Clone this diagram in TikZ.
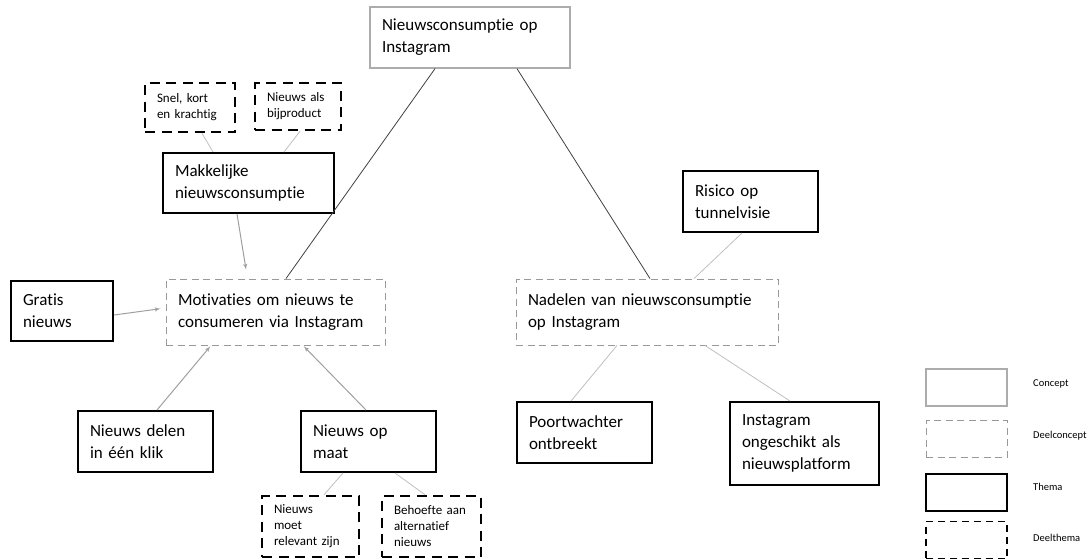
\documentclass[tikz,border=0pt]{standalone}
\usepackage{fontspec}
\setmainfont{Carlito}[Ligatures=NoCommon]
\usetikzlibrary{arrows, positioning}
\tikzset{>=latex', auto,
    concept/.style={rectangle,draw=gray!65,line width=1.3pt,align=left,inner xsep=12pt,font=\fontsize{17}{22}\selectfont},
    deelconcept/.style={rectangle,draw=gray!80,line width=0.9pt,dash pattern=on 7pt off 4.5pt,align=left,inner xsep=12pt,font=\fontsize{17}{22}\selectfont},
    thema/.style={rectangle,draw=black,line width=2pt,align=left,inner xsep=12pt,font=\fontsize{17}{22}\selectfont},
    deelthema/.style={rectangle,draw=black,line width=2.6pt,dash pattern=on 10pt off 6.5pt,align=left,inner xsep=12pt,font=\fontsize{13}{16}\selectfont},
    legendbox/.style={minimum width=81pt,minimum height=37pt,inner sep=0pt},
    legendtext/.style={anchor=west,inner sep=0pt,font=\fontsize{10.5}{12}\selectfont},
    hoofdlijn/.style={draw=black!75,line width=0.8pt},
    deellijn/.style={draw=gray!50,line width=0.8pt},
    pijl/.style={->,draw=gray!75,line width=1pt}}
\begin{document}
\begin{tikzpicture}[x=1pt,y=-1pt]
\useasboundingbox (0,0) rectangle (1091,558);
% concept
\node[concept,text width=176pt,minimum height=61pt] (nieuws) at (470,37.5) {Nieuwsconsumptie op\\Instagram};
% deelconcepten
\node[deelconcept,text width=195pt,minimum height=66pt] (motivaties) at (275.5,312) {Motivaties om nieuws te\\consumeren via Instagram};
\node[deelconcept,text width=238pt,minimum height=66pt] (nadelen) at (647,312) {Nadelen van nieuwsconsumptie\\op Instagram};
% thema's
\node[thema,text width=147pt,minimum height=60pt] (makkelijk) at (248.5,183) {Makkelijke\\nieuwsconsumptie};
\node[thema,text width=78pt,minimum height=60pt] (gratis) at (62,311) {Gratis\\nieuws};
\node[thema,text width=111pt,minimum height=61pt] (delen) at (145.5,441.5) {Nieuws delen\\in één klik};
\node[thema,text width=111pt,minimum height=61pt] (opmaat) at (368.5,441.5) {Nieuws op\\maat};
\node[thema,text width=111pt,minimum height=61pt] (risico) at (750.5,201.5) {Risico op\\tunnelvisie};
\node[thema,text width=111pt,minimum height=61pt] (poortwachter) at (584.5,432.5) {Poortwachter\\ontbreekt};
\node[thema,text width=125pt,minimum height=83pt] (ongeschikt) at (804.5,443.5) {Instagram\\ongeschikt als\\nieuwsplatform};
% deelthema's
\node[deelthema,text width=66pt,minimum height=49pt] (snel) at (190,107.5) {Snel, kort\\en krachtig};
\node[deelthema,text width=62pt,minimum height=47pt] (bijproduct) at (298,106.5) {Nieuws als\\bijproduct};
\node[deelthema,text width=73pt,minimum height=61pt] (relevant) at (310.5,526.5) {Nieuws\\moet\\relevant zijn};
\node[deelthema,text width=75pt,minimum height=61pt] (behoefte) at (431.5,526.5) {Behoefte aan\\alternatief\\nieuws};

\path
	([xshift=-35pt]nieuws.south) edge [hoofdlijn] ([xshift=10.5pt]motivaties.north)
	([xshift=47pt]nieuws.south) edge [hoofdlijn] ([xshift=3pt]nadelen.north)
	([xshift=12pt]snel.south) edge [deellijn] ([xshift=-35.5pt]makkelijk.north)
	([xshift=2pt]bijproduct.south) edge [deellijn] ([xshift=35.5pt]makkelijk.north)
	([xshift=-25.5pt]opmaat.south) edge [deellijn] ([xshift=13.5pt]relevant.north)
	([xshift=26.5pt]opmaat.south) edge [deellijn] ([xshift=-6.5pt]behoefte.north)
	([xshift=-8.5pt]risico.south) edge [deellijn] ([xshift=47pt]nadelen.north)
	([xshift=-30pt]nadelen.south) edge [deellijn] ([xshift=-13.5pt]poortwachter.north)
	([xshift=58pt]nadelen.south) edge [deellijn] ([xshift=-14.5pt]ongeschikt.north);
\path
	([xshift=-11.5pt]makkelijk.south) edge [pijl,shorten >=9pt] ([xshift=-28pt]motivaties.north)
	([yshift=-4pt]gratis.east) edge [pijl,shorten >=5pt] ([yshift=4pt]motivaties.west)
	([xshift=11.5pt]delen.north) edge [pijl,shorten >=1pt] ([xshift=-64.5pt]motivaties.south)
	([xshift=-2.5pt]opmaat.north) edge [pijl,shorten >=1pt] ([xshift=27.5pt]motivaties.south);

% legenda
\node[concept,legendbox] (lconcept) at (966.5,387.5) {};
\node[deelconcept,legendbox] (ldeelconcept) at (966.5,438.5) {};
\node[thema,legendbox] (lthema) at (966.5,492) {};
\node[deelthema,legendbox,line width=1.6pt,dash pattern=on 7pt off 5pt] (ldeelthema) at (966.5,540) {};
\node[legendtext] (tconcept) at (1033,384) {Concept};
\node[legendtext] (tdeelconcept) at (1033,436) {Deelconcept};
\node[legendtext] (tthema) at (1033,487) {Thema};
\node[legendtext] (tdeelthema) at (1033,538) {Deelthema};
\end{tikzpicture}
\end{document}
